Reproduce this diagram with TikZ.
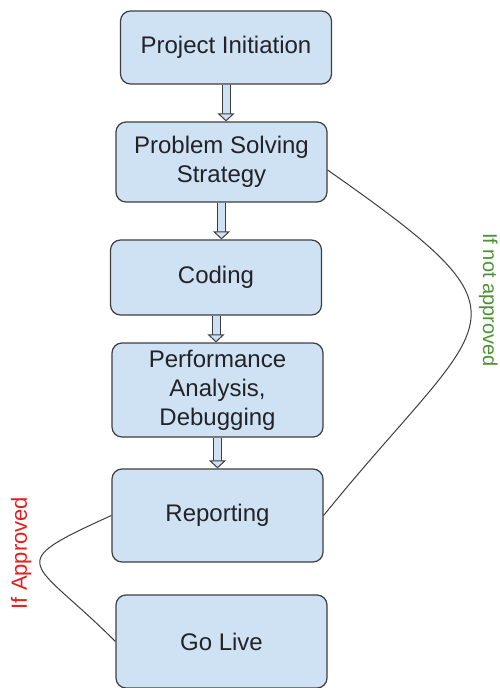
\documentclass[tikz,border=0pt]{standalone}
\usepackage{fontspec}
\setmainfont{Liberation Sans}
\usetikzlibrary{arrows.meta}
\definecolor{boxfill}{RGB}{207,226,243}
\definecolor{boxline}{RGB}{62,62,66}
\definecolor{boxtext}{RGB}{34,34,40}
\definecolor{notokgreen}{RGB}{76,146,52}
\definecolor{okred}{RGB}{226,32,32}
\tikzset{
	stepbox/.style={draw=boxline, fill=boxfill, line width=1.2pt, rounded corners=10pt,
		minimum width=211pt, inner sep=0pt, align=center, text=boxtext,
		font=\fontsize{24}{29}\selectfont},
	flowarrow/.style={draw=boxline, line width=1pt, double=boxfill, double distance=7pt,
		-{Triangle[length=8pt, width=17pt, fill=boxfill, line width=1pt]}},
	loopline/.style={draw=boxline, line width=1pt},
	sidenote/.style={inner sep=0pt, anchor=base, font=\fontsize{#1}{#1}\selectfont}
}

\begin{document}
\begin{tikzpicture}[x=1pt, y=-1pt]
			%%%%% START %%%%%
			
			\fill[white] (0,0) rectangle (499,688);
			\useasboundingbox (0,0) rectangle (499,688);
			
			\node[stepbox, minimum height=73pt] (init) at (226, 47.5) {Project Initiation};
			\node[stepbox, minimum height=80pt] (strategy) at (221.5, 162) {Problem Solving\\Strategy};
			\node[stepbox, minimum height=75pt] (coding) at (216, 277.5) {Coding};
			\node[stepbox, minimum height=94pt] (perf) at (217.5, 390) {Performance\\Analysis,\\Debugging};
			\node[stepbox, minimum height=93pt] (report) at (217.5, 515.5) {Reporting};
			\node[stepbox, minimum height=93pt] (golive) at (221.5, 641.5) {Go Live};
			
			\draw[flowarrow] (init.south) -- (init.south |- strategy.north);
			\draw[flowarrow] (strategy.south) -- (strategy.south |- coding.north);
			\draw[flowarrow] (coding.south) -- (coding.south |- perf.north);
			\draw[flowarrow] (perf.south) -- (perf.south |- report.north);
			
			\draw[loopline] ([yshift=-8pt]strategy.east) .. controls (547,324) and (490,310) .. (report.east);
			\draw[loopline] (report.west) .. controls (0,566) and (32,558) .. (golive.west);
			
			\node[sidenote=20, rotate=-90, text=notokgreen] (notok) at (483, 300) {If not approved};
			\node[sidenote=22, rotate=90, text=okred] (ok) at (27, 553) {If Approved};
			
			%%%%% END %%%%%
\end{tikzpicture}
\end{document}
